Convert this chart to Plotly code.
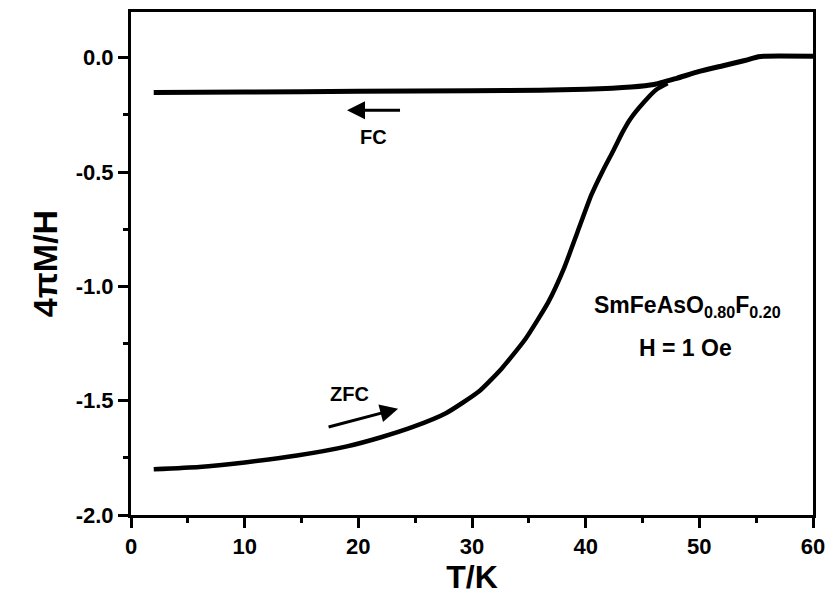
import plotly.graph_objects as go

# FC curve (cooling in field)
fc_T = [2, 10, 20, 30, 36, 40, 44, 46, 48, 50, 52, 54, 55.2, 55.8, 60]
fc_M = [-0.152, -0.150, -0.147, -0.144, -0.142, -0.138, -0.128, -0.117, -0.090, -0.060, -0.036, -0.012, 0.004, 0.007, 0.007]

# ZFC curve (warming after zero-field cooling)
zfc_T = [2, 6, 10, 14.6, 19, 22, 24.8, 27.7, 30.6, 32.6, 34.7, 36.7, 38.1, 39.3, 40.5, 41.5, 42.5, 43.2, 43.9, 45.1, 46.2, 47.2]
zfc_M = [-1.80, -1.79, -1.77, -1.74, -1.70, -1.66, -1.615, -1.555, -1.46, -1.36, -1.23, -1.07, -0.92, -0.76, -0.60, -0.495, -0.40, -0.33, -0.27, -0.196, -0.14, -0.112]

x_ticks = [0, 10, 20, 30, 40, 50, 60]
y_ticks = [-2.0, -1.5, -1.0, -0.5, 0.0]
y_tick_labels = ["-2.0", "-1.5", "-1.0", "-0.5", "0.0"]

FONT = "Liberation Sans, Arial, sans-serif"

fig = go.Figure()
fig.add_trace(go.Scatter(x=fc_T, y=fc_M, mode="lines", line=dict(color="black", width=5, shape="spline", smoothing=0.5), name="FC"))
fig.add_trace(go.Scatter(x=zfc_T, y=zfc_M, mode="lines", line=dict(color="black", width=4.5, shape="spline", smoothing=0.5), name="ZFC"))

axis_common = dict(
    showline=True, linecolor="black", linewidth=3, mirror=True,
    ticks="outside", tickwidth=3, ticklen=10, tickcolor="black",
    showgrid=False, zeroline=False,
    tickfont=dict(family=FONT, size=22, color="black", weight="bold"),
    minor=dict(ticks="outside", ticklen=5, tickwidth=3, tickcolor="black", showgrid=False),
)

fig.update_xaxes(range=[0, 60], tickvals=x_ticks, minor_dtick=5,
                 title=dict(text="<b>T/K</b>", font=dict(family=FONT, size=32, color="black"), standoff=4),
                 **axis_common)
fig.update_yaxes(range=[-2.0, 0.2], tickvals=y_ticks, ticktext=y_tick_labels, minor_dtick=0.25,
                 title=dict(text="<b>4πM/H</b>", font=dict(family=FONT, size=34, color="black"), standoff=8),
                 **axis_common)

ann_font = dict(family=FONT, size=20, color="black")
annotations = [
    dict(x=19.0, y=-0.23, ax=23.8, ay=-0.23, axref="x", ayref="y", xref="x", yref="y",
         text="", showarrow=True, arrowhead=2, arrowsize=1.2, arrowwidth=3, arrowcolor="black"),
    dict(x=21.3, y=-0.345, text="<b>FC</b>", showarrow=False, font=ann_font),
    dict(x=23.5, y=-1.535, ax=17.25, ay=-1.617, axref="x", ayref="y", xref="x", yref="y",
         text="", showarrow=True, arrowhead=2, arrowsize=1.2, arrowwidth=3, arrowcolor="black"),
    dict(x=19.2, y=-1.47, text="<b>ZFC</b>", showarrow=False, font=ann_font),
    dict(x=49.0, y=-1.087, text="<b>SmFeAsO<sub>0.80</sub>F<sub>0.20</sub></b>", showarrow=False,
         font=dict(family=FONT, size=23, color="black")),
    dict(x=48.8, y=-1.27, text="<b>H = 1 Oe</b>", showarrow=False,
         font=dict(family=FONT, size=23, color="black")),
]
fig.update_layout(
    width=834, height=602,
    margin=dict(l=131, r=14, t=9, b=87),
    paper_bgcolor="white", plot_bgcolor="white",
    showlegend=False,
    annotations=annotations,
)

fig.write_html("out.html")
